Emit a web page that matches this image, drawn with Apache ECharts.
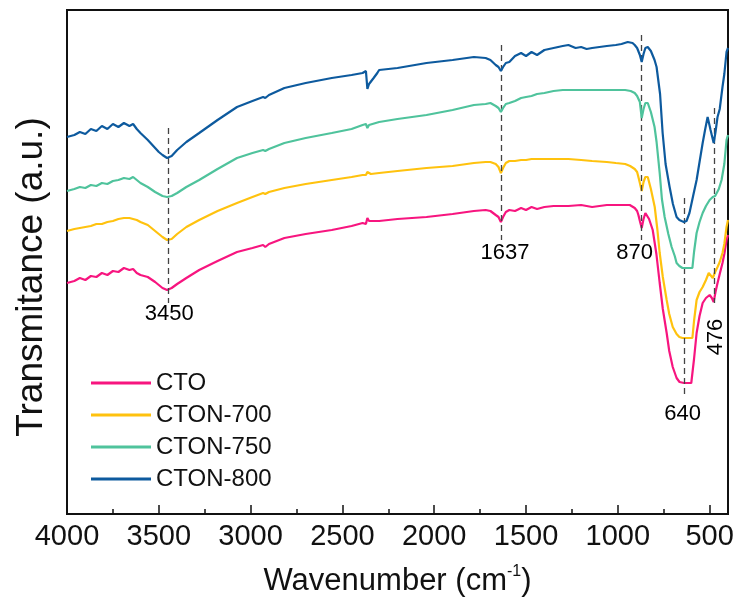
<!DOCTYPE html>
<html>
<head>
<meta charset="utf-8">
<script src="https://cdn.jsdelivr.net/npm/echarts@6/dist/echarts.min.js"></script>
<style>html,body{margin:0;padding:0;background:#fff}#c{width:743px;height:603px}</style>
</head>
<body>
<div id="c"></div>
<script>
// ---- Data (wavenumber in cm^-1, transmittance in arbitrary units, stacked offsets as in figure) ----
const names = ['CTO', 'CTON-700', 'CTON-750', 'CTON-800'];
const colors = ['#F7157F', '#FFC20E', '#4FC39C', '#0D5A9E'];

const wnCTO = [4000,3960,3930,3900,3870,3840,3810,3780,3750,3720,3690,3660,3640,3620,3600,3560,3520,3500,3480,3455,3430,3400,3350,3280,3180,3074,2990,2932,2920,2900,2816,2700,2558,2450,2390,2372,2364,2355,2345,2300,2200,2042,1900,1784,1720,1694,1665,1650,1637,1625,1610,1591,1560,1527,1500,1470,1440,1400,1350,1300,1269,1200,1140,1060,1011,960,935,908,895,888,880,870,860,850,843,830,810,790,772,755,734,720,701,680,664,640,620,600,585,571,555,538,520,500,488,478,468,457,445,430,420,408,400];
const tCTO = [231,233,236,234,238,237,241,239,243,242,246,244,245,241,239,237,232,229,226,224,226,230,236,244,253,262,266,269,267,270,276,280,284,288,291,290,296,293,292,293,295,297,300,303,304,303,299,297,292,297,302,304,303,306,304,307,305,307,308,308,308,309,307,309,309,309,309,306,303,299,293,286,295,301,301,295,284,260,231,205,181,163,147,136,132,131,131,131,155,181,198,211,216,219,216,212,222,231,240,251,260,274,279];

const wn700 = [4000,3960,3930,3900,3870,3840,3810,3780,3750,3720,3690,3660,3640,3620,3600,3560,3520,3500,3480,3455,3430,3400,3350,3280,3180,3074,2990,2932,2920,2900,2816,2700,2558,2450,2390,2372,2364,2355,2345,2300,2200,2042,1900,1784,1720,1694,1665,1650,1637,1625,1610,1591,1560,1527,1500,1470,1440,1400,1350,1300,1269,1200,1140,1060,1011,960,933,908,895,888,880,870,860,850,837,820,799,785,772,755,734,720,701,680,665,648,620,594,585,571,555,538,520,505,495,483,470,457,445,430,420,408,400];
const t700 = [283,285,286,287,288,290,290,292,293,295,296,296,295,294,292,289,283,280,277,274,275,280,287,294,303,311,317,321,320,322,326,330,334,337,339,339,342,340,340,341,343,346,348,351,352,352,350,347,341,346,351,353,353,354,354,355,355,355,355,355,355,354,353,352,351,350,348,345,342,337,331,323,332,337,337,325,307,285,261,237,214,200,187,180,177,176,176,176,193,214,222,227,234,241,239,236,242,247,252,261,270,287,294];

const wn750 = [4000,3960,3930,3900,3870,3840,3810,3780,3750,3720,3690,3660,3640,3620,3600,3560,3520,3500,3480,3455,3430,3400,3350,3280,3180,3074,2990,2932,2920,2900,2816,2700,2558,2450,2390,2372,2364,2355,2345,2300,2200,2042,1900,1784,1720,1694,1665,1650,1637,1625,1610,1591,1560,1527,1500,1470,1440,1400,1350,1300,1269,1200,1140,1060,1011,960,930,908,895,880,870,860,850,837,820,800,789,772,760,745,725,707,690,680,665,648,620,594,585,571,555,538,520,500,483,470,462,450,435,420,408,400];
const t750 = [323,325,327,326,329,328,331,330,333,334,336,335,337,334,331,327,322,320,318,317,318,321,327,334,345,356,361,364,363,365,371,376,381,385,389,390,386,389,390,392,395,399,404,409,410,411,408,406,402,406,410,411,413,416,417,418,420,421,423,424,424,424,424,424,424,424,423,421,418,412,396,405,411,411,402,387,372,341,315,297,280,267,258,251,248,246,246,246,262,281,292,301,308,314,317,318,319,325,334,350,374,379];

const wn800 = [4000,3960,3930,3900,3870,3840,3810,3780,3750,3720,3690,3660,3640,3620,3600,3560,3520,3500,3480,3455,3430,3400,3350,3280,3180,3074,2990,2932,2920,2900,2816,2700,2558,2450,2390,2372,2364,2355,2345,2330,2310,2300,2200,2042,1900,1784,1720,1694,1665,1650,1637,1625,1610,1591,1560,1527,1500,1470,1440,1400,1350,1300,1269,1230,1200,1170,1140,1100,1060,1011,980,946,920,908,895,880,870,860,850,837,820,800,789,770,756,740,718,700,680,665,653,640,626,610,590,571,555,538,525,511,495,478,468,457,445,430,420,408,400];
const t800 = [377,379,382,380,385,383,388,385,390,387,391,388,390,385,381,374,366,362,359,356,358,364,372,381,394,407,413,417,416,419,426,431,436,439,441,443,425,430,428,436,441,444,446,451,454,457,456,454,449,447,443,447,451,452,458,461,458,462,459,464,466,468,469,466,467,465,466,467,468,469,470,472,471,469,466,459,452,460,466,467,463,454,447,420,381,350,327,310,297,294,293,292,293,301,318,334,352,371,384,397,384,371,382,397,405,427,440,462,466];

// x-axis ticks
const xTicks = [4000,3500,3000,2500,2000,1500,1000,500];

// peak annotations: position, dashed line span (y from, y to), label position
const peakWn    = [3450, 1637, 870, 640, 476];
const peakTop   = [386, 469, 479, 316, 406];
const peakBot   = [211, 274, 274, 116, 211];
const peakLabel = ['3450', '1637', '870', '640', '476'];
const labelWn   = [3443, 1615, 908, 647, 468];
const labelT    = [200, 261, 261, 100, 177];
const labelRot  = [0, 0, 0, 0, 90];

// ---- Build ----
const FONT = 'Liberation Sans, Arial, sans-serif';
const wnSets = [wnCTO, wn700, wn750, wn800];
const tSets = [tCTO, t700, t750, t800];

const series = names.map((n, i) => ({
  name: n,
  type: 'line',
  data: wnSets[i].map((w, k) => [-w, tSets[i][k]]),
  showSymbol: false,
  symbol: 'none',
  lineStyle: { color: colors[i], width: 2.2 },
  itemStyle: { color: colors[i] },
  z: 3 + i
}));

series.push({
  type: 'scatter',
  symbolSize: 0,
  silent: true,
  itemStyle: { opacity: 1, color: '#000' },
  data: peakLabel.map((s, i) => ({
    value: [-labelWn[i], labelT[i]],
    label: { show: true, position: 'inside', formatter: s, rotate: labelRot[i], opacity: 1,
             color: '#000', fontSize: 22, fontFamily: FONT }
  })),
  markLine: {
    silent: true,
    symbol: ['none', 'none'],
    label: { show: false },
    lineStyle: { type: [6, 4], color: '#444', width: 1.3 },
    data: peakWn.map((w, i) => [{ coord: [-w, peakTop[i]] }, { coord: [-w, peakBot[i]] }])
  },
  z: 10
});

const chart = echarts.init(document.getElementById('c'), null, { renderer: 'canvas' });
chart.setOption({
  animation: false,
  backgroundColor: '#fff',
  grid: { left: 67, right: 15, top: 10, bottom: 89, show: true, borderColor: '#111', borderWidth: 2 },
  legend: {
    data: names,
    orient: 'vertical',
    left: 86, top: 366,
    itemWidth: 60, itemHeight: 3, itemGap: 8,
    icon: 'rect',
    textStyle: { fontSize: 24, color: '#111', fontFamily: FONT }
  },
  xAxis: {
    type: 'value',
    min: -4000, max: -400, interval: 500,
    name: 'Wavenumber (cm{sup|-1})',
    nameLocation: 'middle', nameGap: 50,
    nameTextStyle: {
      fontSize: 31, color: '#111', fontFamily: FONT,
      rich: { sup: { fontSize: 16, verticalAlign: 'top', padding: [0, 0, 18, 0], color: '#111', fontFamily: FONT } }
    },
    axisLine: { show: true, onZero: false, lineStyle: { color: '#111', width: 2 } },
    axisTick: { show: true, inside: true, length: 9, lineStyle: { color: '#111', width: 1.5 } },
    minorTick: { show: true, splitNumber: 2, length: 5, lineStyle: { color: '#111', width: 1.5 } },
    axisLabel: { margin: 8, fontSize: 29, color: '#111', fontFamily: FONT,
                 formatter: v => (xTicks.indexOf(-v) >= 0 ? String(-v) : '') },
    splitLine: { show: false }
  },
  yAxis: {
    type: 'value', min: 0, max: 504,
    axisLine: { show: true, lineStyle: { color: '#111', width: 2 } },
    axisTick: { show: false }, axisLabel: { show: false }, splitLine: { show: false }
  },
  graphic: [{
    type: 'text', x: 32, y: 277, rotation: Math.PI / 2,
    style: { text: 'Transmitance (a.u.)', fontSize: 37, fill: '#111', align: 'center', verticalAlign: 'middle',
             fontFamily: FONT }
  }],
  series: series
});
</script>
</body>
</html>
